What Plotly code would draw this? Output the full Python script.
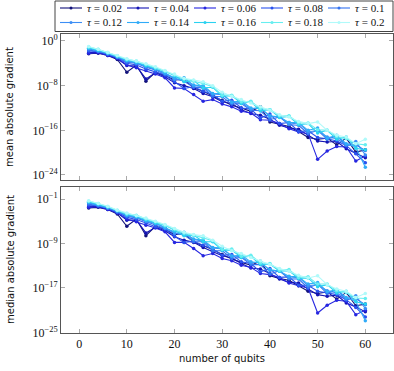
from plotly.subplots import make_subplots
import plotly.graph_objects as go

qubits = [2, 4, 6, 8, 10, 12, 14, 16, 18, 20, 22, 24, 26, 28, 30,
          32, 34, 36, 38, 40, 42, 44, 46, 48, 50, 52, 54, 56, 58, 60]

taus = ["0.02", "0.04", "0.06", "0.08", "0.1", "0.12", "0.14", "0.16", "0.18", "0.2"]

# log10 of mean absolute gradient, one list per tau
mean_002 = [-2.3,-2.2,-2.6,-3.3,-5.6,-4.3,-7.2,-5.6,-6.2,-7.0,-6.9,-8.4,-9.0,-9.8,-10.6,-11.5,-12.0,-12.6,-11.8,-14.5,-14.9,-15.3,-16.2,-17.3,-17.6,-17.4,-18.6,-17.4,-19.9,-19.5]
mean_004 = [-2.1,-2.0,-2.5,-3.2,-4.4,-4.5,-6.8,-5.7,-6.4,-7.5,-8.0,-8.5,-9.4,-10.0,-10.9,-11.2,-12.3,-13.0,-13.3,-14.0,-15.1,-15.6,-15.8,-16.8,-17.9,-18.1,-18.0,-19.3,-20.1,-20.9]
mean_006 = [-2.2,-2.1,-2.6,-3.1,-4.3,-4.8,-5.3,-5.9,-6.6,-8.4,-8.5,-9.6,-10.8,-10.5,-11.3,-11.8,-12.6,-12.9,-14.1,-14.2,-14.8,-15.7,-16.3,-16.6,-21.2,-19.7,-18.9,-19.0,-21.5,-20.6]
mean_008 = [-1.8,-1.9,-2.4,-3.0,-4.0,-4.3,-5.0,-5.6,-6.1,-7.3,-8.5,-8.2,-9.0,-9.6,-10.8,-10.6,-12.0,-12.2,-13.8,-13.1,-14.8,-14.6,-16.2,-16.1,-17.3,-17.5,-17.9,-18.7,-20.2,-21.8]
mean_010 = [-1.6,-1.9,-2.3,-2.9,-3.8,-4.0,-4.7,-5.2,-6.0,-6.7,-7.2,-8.3,-8.4,-9.9,-10.0,-11.3,-11.2,-12.4,-12.5,-14.1,-13.6,-15.0,-15.1,-16.6,-16.0,-17.6,-17.0,-18.7,-18.6,-19.6]
mean_012 = [-1.4,-1.8,-2.3,-2.9,-3.6,-4.0,-4.6,-5.1,-5.7,-6.9,-6.9,-8.0,-8.2,-9.5,-9.6,-10.9,-11.0,-12.2,-11.9,-13.6,-13.5,-14.9,-14.7,-16.3,-16.0,-17.2,-17.5,-18.6,-18.0,-20.4]
mean_014 = [-1.3,-1.7,-2.2,-2.8,-3.5,-3.9,-4.5,-5.0,-5.8,-6.6,-6.6,-7.9,-8.0,-9.4,-9.4,-11.0,-10.7,-12.0,-12.1,-13.4,-13.6,-14.6,-14.6,-16.0,-15.6,-17.4,-16.9,-18.4,-19.0,-22.6]
mean_016 = [-1.2,-1.6,-2.1,-2.7,-3.4,-3.7,-4.4,-4.9,-5.4,-6.2,-7.3,-7.1,-8.4,-8.3,-9.9,-9.8,-11.2,-10.9,-12.5,-12.3,-13.7,-13.5,-15.0,-14.8,-16.5,-16.0,-17.6,-17.2,-19.2,-19.5]
mean_018 = [-1.1,-1.5,-2.1,-2.7,-3.3,-3.6,-4.2,-4.8,-5.4,-6.1,-6.8,-7.2,-7.6,-8.2,-9.7,-9.7,-10.9,-10.8,-12.1,-12.3,-13.4,-13.4,-14.7,-14.7,-15.9,-16.0,-17.1,-17.5,-18.4,-18.6]
mean_020 = [-1.0,-1.5,-2.0,-2.6,-3.2,-3.6,-4.1,-4.6,-5.3,-5.9,-6.7,-7.0,-7.3,-8.0,-9.2,-9.9,-10.5,-11.1,-11.8,-12.4,-13.2,-13.6,-14.4,-14.8,-14.5,-16.0,-16.9,-17.2,-18.4,-17.6]

# log10 of median absolute gradient, one list per tau
med_002 = [-2.6,-2.5,-2.9,-3.7,-5.9,-4.6,-7.6,-5.9,-6.5,-7.4,-7.2,-8.7,-9.4,-10.1,-11.0,-11.8,-12.4,-12.9,-12.2,-14.8,-15.3,-15.6,-16.6,-17.6,-18.0,-17.7,-19.0,-17.8,-20.2,-19.9]
med_004 = [-2.4,-2.3,-2.8,-3.5,-4.8,-4.8,-7.1,-6.1,-6.7,-7.8,-8.4,-8.8,-9.7,-10.4,-11.2,-11.6,-12.6,-13.4,-13.6,-14.4,-15.4,-16.0,-16.1,-17.2,-18.2,-18.5,-18.3,-19.7,-20.4,-21.3]
med_006 = [-2.5,-2.4,-2.9,-3.5,-4.6,-5.1,-5.7,-6.2,-6.9,-8.8,-8.8,-9.9,-11.2,-10.8,-11.7,-12.1,-12.9,-13.3,-14.4,-14.6,-15.1,-16.1,-16.6,-17.0,-21.5,-20.1,-19.2,-19.4,-21.8,-21.0]
med_008 = [-2.1,-2.2,-2.7,-3.4,-4.3,-4.7,-5.3,-6.0,-6.4,-7.7,-8.8,-8.6,-9.3,-10.0,-11.1,-11.0,-12.3,-12.6,-14.1,-13.5,-15.1,-15.0,-16.5,-16.5,-17.6,-17.9,-18.2,-19.1,-20.5,-22.2]
med_010 = [-1.9,-2.2,-2.6,-3.3,-4.1,-4.4,-5.0,-5.6,-6.3,-7.1,-7.5,-8.7,-8.7,-10.3,-10.3,-11.7,-11.5,-12.8,-12.8,-14.5,-13.9,-15.4,-15.4,-17.0,-16.3,-18.0,-17.3,-19.1,-18.9,-20.0]
med_012 = [-1.7,-2.1,-2.6,-3.2,-4.0,-4.3,-5.0,-5.4,-6.1,-7.2,-7.3,-8.3,-8.6,-9.8,-10.0,-11.2,-11.4,-12.5,-12.3,-13.9,-13.9,-15.2,-15.1,-16.6,-16.4,-17.5,-17.9,-18.9,-18.4,-20.7]
med_014 = [-1.6,-2.0,-2.5,-3.1,-3.9,-4.2,-4.9,-5.3,-6.2,-6.9,-7.0,-8.2,-8.4,-9.7,-9.8,-11.3,-11.1,-12.3,-12.5,-13.7,-14.0,-14.9,-15.0,-16.3,-16.0,-17.7,-17.3,-18.7,-19.4,-22.9]
med_016 = [-1.5,-1.9,-2.4,-3.1,-3.7,-4.1,-4.7,-5.3,-5.7,-6.6,-7.6,-7.5,-8.7,-8.7,-10.2,-10.2,-11.5,-11.3,-12.8,-12.7,-14.0,-13.9,-15.3,-15.2,-16.8,-16.4,-17.9,-17.6,-19.5,-19.9]
med_018 = [-1.4,-1.8,-2.4,-3.0,-3.7,-3.9,-4.6,-5.1,-5.8,-6.4,-7.2,-7.5,-8.0,-8.5,-10.1,-10.0,-11.3,-11.1,-12.5,-12.6,-13.8,-13.7,-15.1,-15.0,-16.3,-16.3,-17.5,-17.8,-18.8,-18.9]
med_020 = [-1.3,-1.8,-2.3,-3.0,-3.5,-4.0,-4.4,-5.0,-5.6,-6.3,-7.0,-7.4,-7.6,-8.4,-9.5,-10.3,-10.8,-11.5,-12.1,-12.8,-13.5,-14.0,-14.7,-15.2,-14.8,-16.4,-17.2,-17.6,-18.7,-18.0]

mean_all = [mean_002, mean_004, mean_006, mean_008, mean_010,
            mean_012, mean_014, mean_016, mean_018, mean_020]
med_all = [med_002, med_004, med_006, med_008, med_010,
           med_012, med_014, med_016, med_018, med_020]

colors = ["#12127a", "#1414b4", "#2626e0", "#2a52ee", "#3272f0",
          "#3c8ef5", "#30abf8", "#2ad2f0", "#66eef0", "#b0fafa"]

top_ticks = [0, -8, -16, -24]
bot_ticks = [-1, -9, -17, -25]

W, H = 394, 371
ML, MR, MT, MB = 61, 1, 34, 38
PW, PH = W - ML - MR, H - MT - MB

def px_x(p):
	return (p - ML) / PW

def px_y(p):
	return (H - MB - p) / PH

fig = make_subplots(rows=2, cols=1, shared_xaxes=True)

for i in range(len(taus)):
	fig.add_trace(go.Scatter(
		x=qubits, y=[10 ** v for v in mean_all[i]], name="τ = " + taus[i], mode="lines+markers",
		line=dict(color=colors[i], width=1.1), marker=dict(color=colors[i], size=3.5)),
		row=1, col=1)
	fig.add_trace(go.Scatter(
		x=qubits, y=[10 ** v for v in med_all[i]], name="τ = " + taus[i], mode="lines+markers",
		line=dict(color=colors[i], width=1.1), marker=dict(color=colors[i], size=3.5)),
		row=2, col=1)

serif = "Liberation Serif"
sans = "DejaVu Sans"
ax = dict(showline=True, linecolor="#555555", linewidth=1, mirror="ticks",
	ticks="inside", ticklen=4, tickcolor="#aaaaaa", showgrid=False, zeroline=False,
	tickfont=dict(family=serif, size=12, color="#111111"))

fig.update_xaxes(range=[-3.8, 65.8], tickvals=[0, 10, 20, 30, 40, 50, 60], **ax)
fig.update_xaxes(showticklabels=False, row=1, col=1)
fig.update_yaxes(type="log", **ax)
fig.update_yaxes(range=[-24.9, 1.25], tickvals=[10 ** t for t in top_ticks],
	ticktext=["10<sup>%s</sup>" % str(t).replace("-", "−") for t in top_ticks], row=1, col=1)
fig.update_yaxes(range=[-25.1, 1.16], tickvals=[10 ** t for t in bot_ticks],
	ticktext=["10<sup>%s</sup>" % str(t).replace("-", "−") for t in bot_ticks], row=2, col=1)

# legend drawn by hand: 5 columns x 2 rows in a framed box above the plots
shapes = [dict(type="rect", xref="paper", yref="paper",
	x0=px_x(55), x1=px_x(393), y0=px_y(1), y1=px_y(31.5),
	line=dict(color="#444444", width=1), fillcolor="white")]
annos = []
for i in range(len(taus)):
	x0 = 60 + 67 * (i % 5)
	yy = 8 if i < 5 else 22.5
	shapes.append(dict(type="line", xref="paper", yref="paper",
		x0=px_x(x0), x1=px_x(x0 + 22), y0=px_y(yy), y1=px_y(yy),
		line=dict(color=colors[i], width=1.1)))
	shapes.append(dict(type="circle", xref="paper", yref="paper",
		x0=px_x(x0 + 9.5), x1=px_x(x0 + 12.5), y0=px_y(yy + 1.5), y1=px_y(yy - 1.5),
		line=dict(width=0), fillcolor=colors[i]))
	annos.append(dict(text="<i>τ</i> = " + taus[i], xref="paper", yref="paper",
		x=px_x(x0 + 25), y=px_y(yy), xanchor="left", yanchor="middle", showarrow=False,
		font=dict(family=serif, size=11, color="#111111")))

annos += [
	dict(text="mean absolute gradient", xref="paper", yref="paper", x=px_x(10), y=px_y(107),
		textangle=-90, xanchor="center", yanchor="middle", showarrow=False,
		font=dict(family=sans, size=10, color="#111111")),
	dict(text="median absolute gradient", xref="paper", yref="paper", x=px_x(10), y=px_y(260),
		textangle=-90, xanchor="center", yanchor="middle", showarrow=False,
		font=dict(family=sans, size=10, color="#111111")),
	dict(text="number of qubits", xref="paper", yref="paper", x=px_x(222), y=px_y(358),
		xanchor="center", yanchor="middle", showarrow=False,
		font=dict(family=sans, size=10, color="#111111")),
]

fig.update_layout(
	width=W, height=H,
	margin=dict(l=ML, r=MR, t=MT, b=MB, autoexpand=False),
	plot_bgcolor="white", paper_bgcolor="white",
	yaxis=dict(domain=[px_y(180), 1.0]),
	yaxis2=dict(domain=[0.0, px_y(187)]),
	shapes=shapes, annotations=annos,
	showlegend=False,
)

# page body has a default margin; drop it so the figure sits at the window corner
fig.write_html("out.html", config={"displayModeBar": False},
	post_script="document.body.style.margin='0';")
